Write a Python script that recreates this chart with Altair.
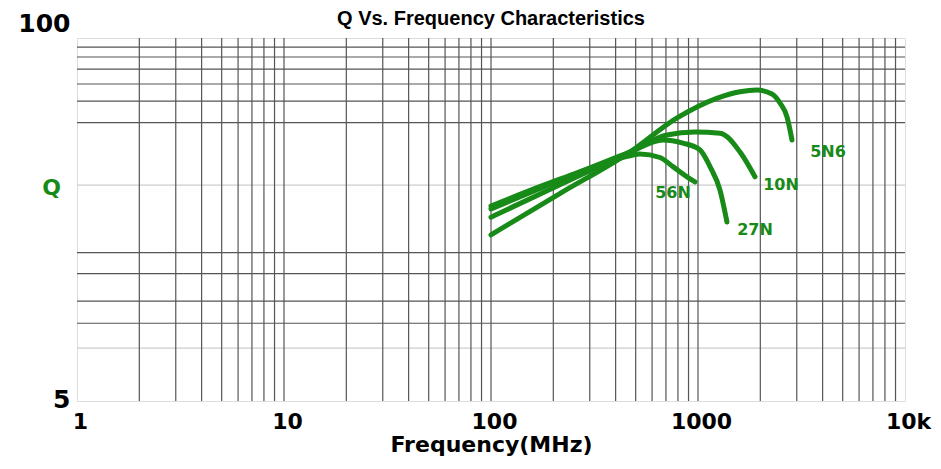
import altair as alt
import pandas as pd

# ---- data ----
series_names = ["5N6", "10N", "27N", "56N"]

f_5n6 = [100, 215, 469, 792, 1231, 1596, 1928, 2276, 2489, 2692, 2845]
q_5n6 = [19.7, 27.7, 39.0, 51.7, 60.8, 64.2, 65.1, 63.0, 58.5, 52.1, 43.1]

f_10n = [100, 215, 469, 708, 967, 1277, 1596, 1885]
q_10n = [22.8, 29.8, 39.0, 44.9, 46.0, 45.6, 39.0, 31.8]

f_27n = [100, 215, 469, 677, 846, 1023, 1143, 1277, 1380]
q_27n = [24.4, 30.9, 39.0, 43.1, 42.0, 39.7, 34.6, 28.5, 21.9]

f_56n = [100, 215, 469, 524, 655, 757, 885, 967]
q_56n = [25.0, 31.2, 37.8, 38.4, 37.3, 34.6, 31.8, 30.5]

label_f = [4246, 2518, 1885, 757]
label_q = [39.0, 29.7, 20.5, 27.8]

x_grid = [2, 3, 4, 5, 6, 7, 8, 9, 10, 20, 30, 40, 50, 60, 70, 80, 90, 100,
          200, 300, 400, 500, 600, 700, 800, 900, 1000,
          2000, 3000, 4000, 5000, 6000, 7000, 8000, 9000]
y_grid = [92.8, 85.5, 77.4, 68.4, 59.4, 49.7, 17.0, 14.3, 11.4, 9.5]
y_grid_faint = [29.7, 7.74]

x_ticks = [1, 10, 100, 1000, 10000]
y_ticks = [5, 100]

GREEN = "#178a17"

rows = []
for name, fs, qs in [("5N6", f_5n6, q_5n6), ("10N", f_10n, q_10n),
                     ("27N", f_27n, q_27n), ("56N", f_56n, q_56n)]:
    for i, (f, q) in enumerate(zip(fs, qs)):
        rows.append({"series": name, "f": f, "q": q, "order": i})
lines_df = pd.DataFrame(rows)
labels_df = pd.DataFrame({"series": series_names, "f": label_f, "q": label_q})
vgrid_df = pd.DataFrame({"f": x_grid})
hgrid_df = pd.DataFrame({"q": y_grid})
hfaint_df = pd.DataFrame({"q": y_grid_faint})

xscale = alt.Scale(type="log", domain=[1, 10000], nice=False)
yscale = alt.Scale(type="log", domain=[5, 100], nice=False)

x_axis = alt.Axis(
    values=x_ticks, grid=False, ticks=False, domain=False,
    labelExpr="datum.value >= 10000 ? '10k' : format(datum.value, 'd')",
    labelFont="DejaVu Sans", labelFontSize=22, labelFontWeight="bold",
    labelColor="black", labelPadding=10, labelFlush=False, labelOffset=3,
    title="Frequency(MHz)", titleFont="DejaVu Sans", titleFontSize=22,
    titleFontWeight="bold", titleColor="black", titlePadding=2)
y_axis = alt.Axis(
    values=y_ticks, grid=False, ticks=False, domain=False,
    labelFont="DejaVu Sans", labelFontSize=25, labelFontWeight="bold",
    labelColor="black", labelPadding=7,
    labelOffset={"condition": {"test": "datum.value == 100", "value": -15}, "value": -2},
    title="Q", titleAngle=0, titleX=-26, titleY=149, titleAlign="center",
    titleBaseline="middle", titleColor=GREEN, titleFont="DejaVu Sans",
    titleFontSize=22, titleFontWeight="bold")

X = lambda: alt.X("f:Q", scale=xscale, axis=x_axis)
Y = lambda: alt.Y("q:Q", scale=yscale, axis=y_axis)

vgrid = alt.Chart(vgrid_df).mark_rule(color="#555555", strokeWidth=1.2).encode(x=X())
hgrid = alt.Chart(hgrid_df).mark_rule(color="#555555", strokeWidth=1.2).encode(y=Y())
hfaint = alt.Chart(hfaint_df).mark_rule(color="#cccccc", strokeWidth=1.2).encode(y=Y())

lines = alt.Chart(lines_df).mark_line(
    color=GREEN, strokeWidth=5, interpolate="monotone", strokeCap="round"
).encode(
    x=X(), y=Y(),
    detail="series:N",
    order="order:Q",
)

labels = alt.Chart(labels_df).mark_text(
    color=GREEN, font="DejaVu Sans", fontSize=16, fontWeight="bold",
    align="center", baseline="middle"
).encode(x=X(), y=Y(), text="series:N")

chart = alt.layer(hfaint, vgrid, hgrid, lines, labels).properties(
    width=828, height=363,
    title=alt.TitleParams("Q Vs. Frequency Characteristics", font="Liberation Sans",
                          fontSize=20, fontWeight="bold", color="black",
                          anchor="middle", frame="group", dy=22),
    autosize=alt.AutoSizeParams(type="none"),
    padding={"left": 69, "top": 30, "right": 28, "bottom": 60},
).configure_view(stroke="#555555", strokeWidth=1.5).configure(background="white")

chart.save("out.html", embed_options={"renderer": "svg", "actions": False})
